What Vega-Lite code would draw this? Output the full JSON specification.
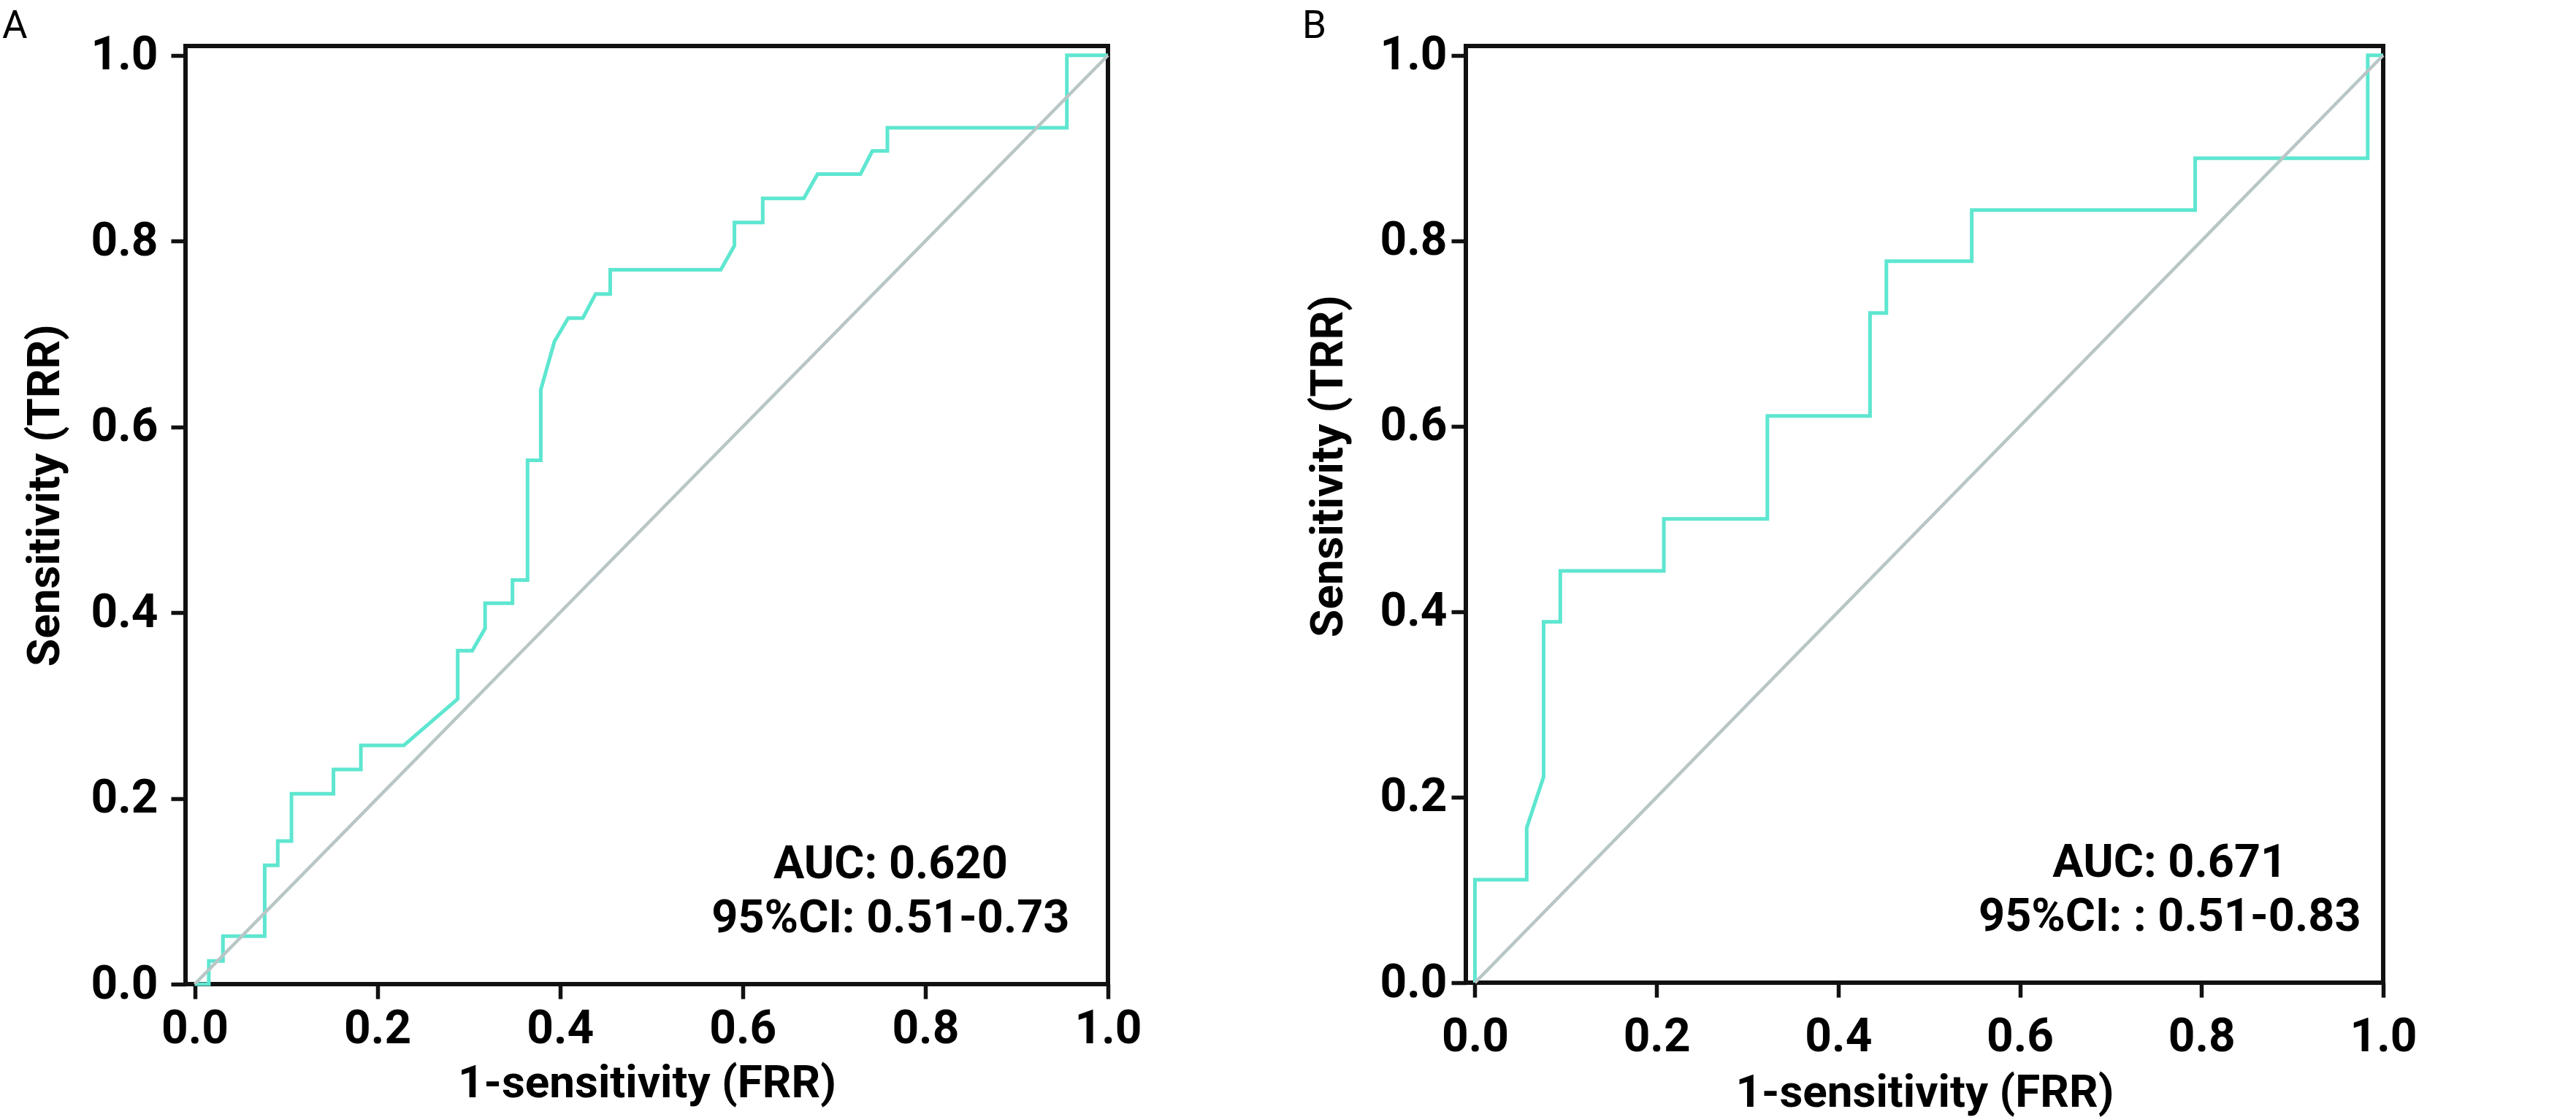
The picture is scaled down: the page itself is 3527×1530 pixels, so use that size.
{
  "$schema": "https://vega.github.io/schema/vega-lite/v6.json",
  "background": "white",
  "padding": {"left": 0, "top": 6, "right": 0, "bottom": 0},
  "autosize": {"type": "pad"},
  "spacing": 490,
  "bounds": "flush",
  "config": {
    "view": {"stroke": "#111111", "strokeWidth": 6},
    "font": "Roboto",
    "axis": {
      "domain": false,
      "grid": false,
      "ticks": true,
      "tickColor": "#111111",
      "tickWidth": 5.5,
      "tickSize": 20,
      "labelFont": "Roboto",
      "labelFontSize": 64,
      "labelFontWeight": "bold",
      "labelColor": "#000000",
      "labelFlush": false,
      "labelOverlap": false,
      "titleFont": "Roboto",
      "titleFontSize": 62,
      "titleFontWeight": "bold",
      "titleColor": "#000000"
    }
  },
  "hconcat": [
    {
      "width": 1263,
      "height": 1285,
      "title": {"text": "A", "anchor": "start", "frame": "group", "dx": -251, "offset": -61, "fontSize": 53, "fontWeight": "normal", "font": "Roboto", "color": "#000000", "baseline": "alphabetic"},
      "layer": [
        {
          "data": {"values": [
            {"fpr": 0, "tpr": 0},
            {"fpr": 0.0155, "tpr": 0},
            {"fpr": 0.0155, "tpr": 0.025},
            {"fpr": 0.031, "tpr": 0.025},
            {"fpr": 0.031, "tpr": 0.0517},
            {"fpr": 0.0767, "tpr": 0.0517},
            {"fpr": 0.0767, "tpr": 0.128},
            {"fpr": 0.091, "tpr": 0.128},
            {"fpr": 0.091, "tpr": 0.154},
            {"fpr": 0.106, "tpr": 0.154},
            {"fpr": 0.106, "tpr": 0.205},
            {"fpr": 0.152, "tpr": 0.205},
            {"fpr": 0.152, "tpr": 0.231},
            {"fpr": 0.182, "tpr": 0.231},
            {"fpr": 0.182, "tpr": 0.257},
            {"fpr": 0.229, "tpr": 0.257},
            {"fpr": 0.288, "tpr": 0.307},
            {"fpr": 0.288, "tpr": 0.359},
            {"fpr": 0.304, "tpr": 0.359},
            {"fpr": 0.318, "tpr": 0.383},
            {"fpr": 0.318, "tpr": 0.41},
            {"fpr": 0.348, "tpr": 0.41},
            {"fpr": 0.348, "tpr": 0.435},
            {"fpr": 0.3645, "tpr": 0.435},
            {"fpr": 0.3645, "tpr": 0.564},
            {"fpr": 0.379, "tpr": 0.564},
            {"fpr": 0.379, "tpr": 0.64},
            {"fpr": 0.394, "tpr": 0.692},
            {"fpr": 0.409, "tpr": 0.717},
            {"fpr": 0.425, "tpr": 0.717},
            {"fpr": 0.439, "tpr": 0.743},
            {"fpr": 0.455, "tpr": 0.743},
            {"fpr": 0.455, "tpr": 0.769},
            {"fpr": 0.576, "tpr": 0.769},
            {"fpr": 0.591, "tpr": 0.795},
            {"fpr": 0.591, "tpr": 0.82},
            {"fpr": 0.622, "tpr": 0.82},
            {"fpr": 0.622, "tpr": 0.846},
            {"fpr": 0.667, "tpr": 0.846},
            {"fpr": 0.682, "tpr": 0.872},
            {"fpr": 0.729, "tpr": 0.872},
            {"fpr": 0.742, "tpr": 0.897},
            {"fpr": 0.7585, "tpr": 0.897},
            {"fpr": 0.7585, "tpr": 0.922},
            {"fpr": 0.955, "tpr": 0.922},
            {"fpr": 0.955, "tpr": 1.0},
            {"fpr": 1.0, "tpr": 1.0}
          ]},
          "mark": {"type": "line", "color": "#5ee6d0", "strokeWidth": 5},
          "encoding": {
            "x": {"field": "fpr", "type": "quantitative", "scale": {"domain": [-0.01, 1], "nice": false, "zero": false},
                  "axis": {"title": "1-sensitivity (FRR)", "values": [0, 0.2, 0.4, 0.6, 0.8, 1], "format": ".1f", "labelPadding": 9, "titlePadding": 12}},
            "y": {"field": "tpr", "type": "quantitative", "scale": {"domain": [0, 1.01], "nice": false, "zero": false},
                  "axis": {"title": "Sensitivity (TRR)", "values": [0, 0.2, 0.4, 0.6, 0.8, 1], "format": ".1f", "labelPadding": 18, "titlePadding": 31, "titleY": 615}},
            "order": {"value": null}
          }
        },
        {
          "data": {"values": [{"fpr": 0, "tpr": 0}, {"fpr": 1, "tpr": 1}]},
          "mark": {"type": "line", "color": "#b8c6c6", "strokeWidth": 4.5},
          "encoding": {
            "x": {"field": "fpr", "type": "quantitative"},
            "y": {"field": "tpr", "type": "quantitative"}
          }
        },
        {
          "data": {"values": [{"label": "AUC: 0.620\n95%CI: 0.51-0.73"}]},
          "mark": {"type": "text", "align": "center", "baseline": "alphabetic", "lineBreak": "\n", "lineHeight": 74, "font": "Roboto", "fontSize": 63, "fontWeight": "bold", "color": "#000000"},
          "encoding": {
            "x": {"datum": 0.762},
            "y": {"datum": 0.114},
            "text": {"field": "label"}
          }
        }
      ]
    },
    {
      "width": 1256,
      "height": 1283,
      "title": {"text": "B", "anchor": "start", "frame": "group", "dx": -224, "offset": -61, "fontSize": 53, "fontWeight": "normal", "font": "Roboto", "color": "#000000", "baseline": "alphabetic"},
      "layer": [
        {
          "data": {"values": [
            {"fpr": 0, "tpr": 0},
            {"fpr": 0, "tpr": 0.111},
            {"fpr": 0.057, "tpr": 0.111},
            {"fpr": 0.057, "tpr": 0.167},
            {"fpr": 0.0756, "tpr": 0.222},
            {"fpr": 0.0756, "tpr": 0.389},
            {"fpr": 0.094, "tpr": 0.389},
            {"fpr": 0.094, "tpr": 0.444},
            {"fpr": 0.208, "tpr": 0.444},
            {"fpr": 0.208, "tpr": 0.5},
            {"fpr": 0.322, "tpr": 0.5},
            {"fpr": 0.322, "tpr": 0.611},
            {"fpr": 0.435, "tpr": 0.611},
            {"fpr": 0.435, "tpr": 0.722},
            {"fpr": 0.453, "tpr": 0.722},
            {"fpr": 0.453, "tpr": 0.778},
            {"fpr": 0.547, "tpr": 0.778},
            {"fpr": 0.547, "tpr": 0.833},
            {"fpr": 0.793, "tpr": 0.833},
            {"fpr": 0.793, "tpr": 0.889},
            {"fpr": 0.983, "tpr": 0.889},
            {"fpr": 0.983, "tpr": 1.0},
            {"fpr": 1.0, "tpr": 1.0}
          ]},
          "mark": {"type": "line", "color": "#5ee6d0", "strokeWidth": 5},
          "encoding": {
            "x": {"field": "fpr", "type": "quantitative", "scale": {"domain": [-0.01, 1], "nice": false, "zero": false},
                  "axis": {"title": "1-sensitivity (FRR)", "values": [0, 0.2, 0.4, 0.6, 0.8, 1], "format": ".1f", "labelPadding": 22, "titlePadding": 14}},
            "y": {"field": "tpr", "type": "quantitative", "scale": {"domain": [0, 1.01], "nice": false, "zero": false},
                  "axis": {"title": "Sensitivity (TRR)", "values": [0, 0.2, 0.4, 0.6, 0.8, 1], "format": ".1f", "labelPadding": 6, "titlePadding": 39, "titleY": 575}},
            "order": {"value": null}
          }
        },
        {
          "data": {"values": [{"fpr": 0, "tpr": 0}, {"fpr": 1, "tpr": 1}]},
          "mark": {"type": "line", "color": "#b8c6c6", "strokeWidth": 4.5},
          "encoding": {
            "x": {"field": "fpr", "type": "quantitative"},
            "y": {"field": "tpr", "type": "quantitative"}
          }
        },
        {
          "data": {"values": [{"label": "AUC: 0.671\n95%CI: : 0.51-0.83"}]},
          "mark": {"type": "text", "align": "center", "baseline": "alphabetic", "lineBreak": "\n", "lineHeight": 74, "font": "Roboto", "fontSize": 63, "fontWeight": "bold", "color": "#000000"},
          "encoding": {
            "x": {"datum": 0.765},
            "y": {"datum": 0.114},
            "text": {"field": "label"}
          }
        }
      ]
    }
  ]
}
